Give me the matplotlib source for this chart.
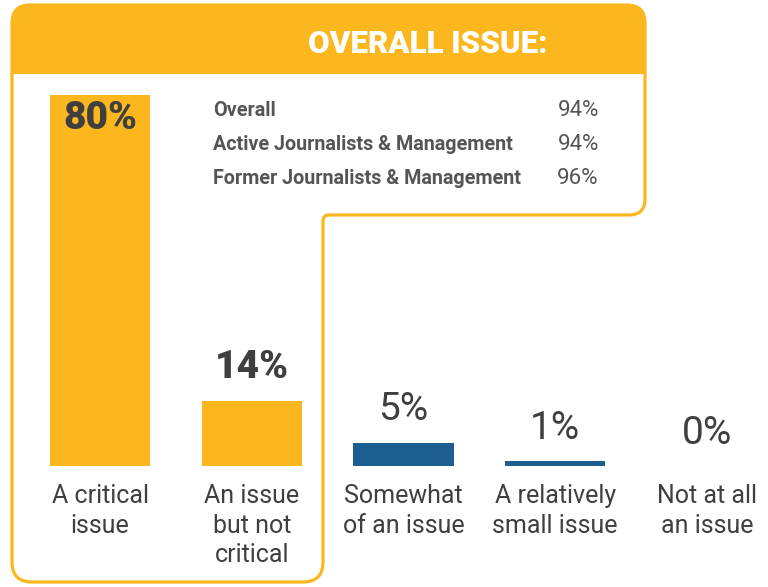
import numpy as np
import matplotlib
matplotlib.use("Agg")
import matplotlib.pyplot as plt
from matplotlib.path import Path
from matplotlib.patches import PathPatch

plt.rcParams['font.family'] = ['Roboto', 'DejaVu Sans']

## Data
categories = ['A critical\nissue', 'An issue\nbut not\ncritical', 'Somewhat\nof an issue',
              'A relatively\nsmall issue', 'Not at all\nan issue']
values = [80, 14, 5, 1, 0]
bar_colors = ['#FCB71E', '#FCB71E', '#1B5E8F', '#1B5E8F', '#1B5E8F']

title = 'OVERALL ISSUE:'
groups = ['Overall', 'Active Journalists & Management', 'Former Journalists & Management']
group_values = [94, 94, 96]

ORANGE = '#FCB71E'
DARK = '#3F3F3F'
GRAY = '#555555'


# polygon with rounded corners (quadratic bezier at each vertex)
def rounded_poly(pts, radii):
    verts, codes = [], []
    n = len(pts)
    for i in range(n):
        p0 = np.array(pts[i - 1], float)
        p1 = np.array(pts[i], float)
        p2 = np.array(pts[(i + 1) % n], float)
        d0 = (p0 - p1) / np.linalg.norm(p0 - p1)
        d2 = (p2 - p1) / np.linalg.norm(p2 - p1)
        a = p1 + d0 * radii[i]
        b = p1 + d2 * radii[i]
        verts.append(a)
        codes.append(Path.MOVETO if i == 0 else Path.LINETO)
        verts += [p1, b]
        codes += [Path.CURVE3, Path.CURVE3]
    verts.append(verts[0])
    codes.append(Path.CLOSEPOLY)
    return Path(verts, codes)


fig = plt.figure(figsize=(7.68, 5.87), dpi=100)

# background layer in pixel units (y down)
bg = fig.add_axes([0, 0, 1, 1])
bg.set_xlim(0, 768)
bg.set_ylim(587, 0)
bg.axis('off')

header = rounded_poly([(12, 5), (645, 5), (645, 74), (12, 74)], [18, 18, 0, 0])
bg.add_patch(PathPatch(header, facecolor=ORANGE, edgecolor='none'))
outline = rounded_poly([(12, 5), (645, 5), (645, 215), (323, 215), (323, 582), (12, 582)],
                       [18, 18, 16, 6, 20, 20])
bg.add_patch(PathPatch(outline, facecolor='none', edgecolor=ORANGE, lw=2.3))

bg.text(428, 44, title, color='white', fontsize=22.5, fontweight='black',
        ha='center', va='center')
for g, v, y in zip(groups, group_values, [110, 145, 179]):
    bg.text(213, y, g, color=GRAY, fontsize=14.2, fontweight='bold', ha='left', va='center')
    bg.text(599, y, f'{v}%', color=GRAY, fontsize=16, ha='right', va='center')

## Bars
ax = fig.add_axes([0, 0, 1, 1])
ax.patch.set_alpha(0)
ax.set_xlim(-0.659, 4.402)
ax.set_ylim(-26.08, 100.43)
ax.axis('off')

x = np.arange(len(values))
ax.bar(x, values, width=0.659, color=bar_colors)

for i, v in enumerate(values):
    if i == 0:
        ax.text(i, v - 5.2, f'{v}%', color=DARK, fontsize=28, fontweight='black',
                ha='center', va='center')
    elif i == 1:
        ax.text(i, v + 7.3, f'{v}%', color=DARK, fontsize=28, fontweight='black',
                ha='center', va='center')
    else:
        ax.text(i, v + 7.1, f'{v}%', color=DARK, fontsize=28, ha='center', va='center')

for i, c in enumerate(categories):
    ax.text(i, -3.9, c, color=DARK, fontsize=18, ha='center', va='top', linespacing=1.3)

fig.savefig('out.png', dpi=100)
